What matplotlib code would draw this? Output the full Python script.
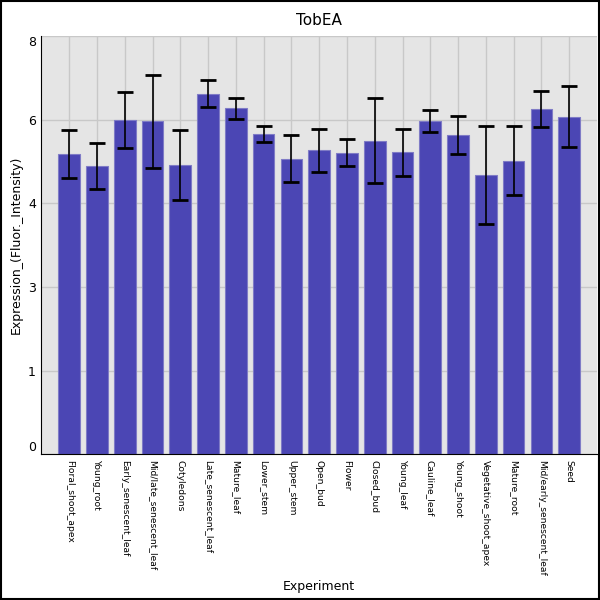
import numpy as np
import matplotlib
matplotlib.use('Agg')
import matplotlib.pyplot as plt
from matplotlib.patches import Rectangle

experiments = ['Floral_shoot_apex', 'Young_root', 'Early_senescent_leaf', 'Mid/late_senescent_leaf',
               'Cotyledons', 'Late_senescent_leaf', 'Mature_leaf', 'Lower_stem', 'Upper_stem',
               'Open_bud', 'Flower', 'Closed_bud', 'Young_leaf', 'Cauline_leaf', 'Young_shoot',
               'Vegetative_shoot_apex', 'Mature_root', 'Mid/early_senescent_leaf', 'Seed']
expression = [5.745, 5.515, 6.395, 6.37, 5.535, 6.90, 6.615, 6.12, 5.65, 5.81,
              5.77, 6.0, 5.775, 6.375, 6.105, 5.335, 5.615, 6.595, 6.455]
errors = [0.455, 0.445, 0.535, 0.89, 0.665, 0.26, 0.205, 0.15, 0.45, 0.42,
          0.26, 0.81, 0.455, 0.215, 0.365, 0.935, 0.655, 0.345, 0.585]
y_ticks = np.linspace(0, 8, 6)

fig = plt.figure(figsize=(6, 6), dpi=100)
ax = fig.add_axes([0.069, 0.243, 0.926, 0.697])
ax.set_facecolor('#e5e5e5')

x = np.arange(len(experiments))
ax.bar(x, expression, width=0.78, color='#4b46b4', edgecolor='#7f7bc6', linewidth=0.8, zorder=2)
ax.errorbar(x, expression, yerr=errors, fmt='none', ecolor='black', elinewidth=1.2,
            capsize=5.5, capthick=2, zorder=3)

ax.set_xlim(-1, 19)
ax.set_ylim(0, 8)
ax.set_xticks(x)
ax.set_xticklabels(experiments, rotation=-90, fontsize=6.6, va='top', ha='center')
ax.set_yticks(y_ticks)
ax.set_yticklabels([str(int(v)) for v in y_ticks], fontsize=9)
labels = ax.get_yticklabels()
labels[0].set_va('bottom')
labels[-1].set_va('top')
ax.tick_params(length=0, pad=4)
ax.grid(True, color='#c8c8c8', linewidth=1, zorder=0)
ax.set_axisbelow(True)
for s in ['top', 'right']:
    ax.spines[s].set_visible(False)
ax.spines['left'].set_color('black')
ax.spines['bottom'].set_color('black')

ax.set_title('TobEA', fontsize=11, pad=8)
ax.set_ylabel('Expression_(Fluor._Intensity)', fontsize=9)
ax.set_xlabel('Experiment', fontsize=9)
ax.xaxis.set_label_coords(0.5, -0.30)

fig.patches.append(Rectangle((0.001, 0.001), 0.997, 0.997, transform=fig.transFigure,
                             fill=False, edgecolor='black', linewidth=1.5))
fig.savefig('out.png', dpi=100)
